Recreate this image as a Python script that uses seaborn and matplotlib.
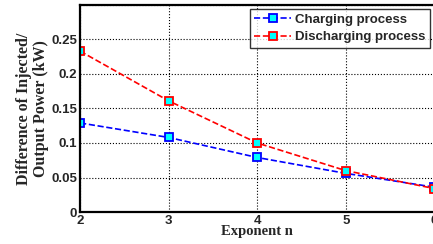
import pandas as pd
import seaborn as sns
import matplotlib.pyplot as plt

# Data
exponent = [2, 3, 4, 5, 6]
charging = [0.129, 0.108, 0.079, 0.056, 0.036]
discharging = [0.233, 0.161, 0.100, 0.060, 0.034]

df = pd.DataFrame({'n': exponent, 'Charging process': charging,
                   'Discharging process': discharging})

sns.set_style('white')
plt.rcParams['font.family'] = ['Liberation Sans', 'DejaVu Sans']

fig = plt.figure(figsize=(4.33, 2.44), dpi=100)
ax = fig.add_axes([0.185, 0.131, 0.818, 0.849])

sns.lineplot(data=df, x='n', y='Charging process', ax=ax, color='blue',
             linestyle='--', marker='s', markersize=6, markerfacecolor='cyan',
             markeredgecolor='blue', markeredgewidth=1.3, linewidth=1.2,
             label='Charging process')
sns.lineplot(data=df, x='n', y='Discharging process', ax=ax, color='red',
             linestyle='--', marker='s', markersize=6, markerfacecolor='cyan',
             markeredgecolor='red', markeredgewidth=1.3, linewidth=1.2,
             label='Discharging process')

ax.set_xlim(2, 6)
ax.set_ylim(0, 0.3)
ax.set_xticks(exponent)
ax.set_yticks([0, 0.05, 0.1, 0.15, 0.2, 0.25, 0.3])
ax.set_yticklabels(['0', '0.05', '0.1', '0.15', '0.2', '0.25', ''])
ax.grid(True, color='black', linestyle=':', linewidth=0.8)
for lab in ax.get_xticklabels() + ax.get_yticklabels():
    lab.set_fontweight('bold')
    lab.set_fontsize(9.5)
ax.tick_params(axis='both', length=0, pad=2)
for s in ax.spines.values():
    s.set_color('black')
    s.set_linewidth(1.6)

ax.set_xlabel('Exponent n', family='Liberation Serif', fontweight='bold',
              fontsize=10.5, labelpad=-1)
ax.set_ylabel('Difference of Injected/\nOutput Power (kW)',
              family='Liberation Serif', fontweight='bold', fontsize=11.5,
              labelpad=2, linespacing=1.05)

leg = ax.legend(loc='upper right', prop={'weight': 'bold', 'size': 9.5},
                frameon=True, fancybox=False, borderpad=0.35,
                handlelength=2.8, handletextpad=0.3, labelspacing=0.4,
                borderaxespad=0.3)
leg.get_frame().set_edgecolor('black')
leg.get_frame().set_linewidth(1.0)

fig.savefig('out.png', dpi=100)
